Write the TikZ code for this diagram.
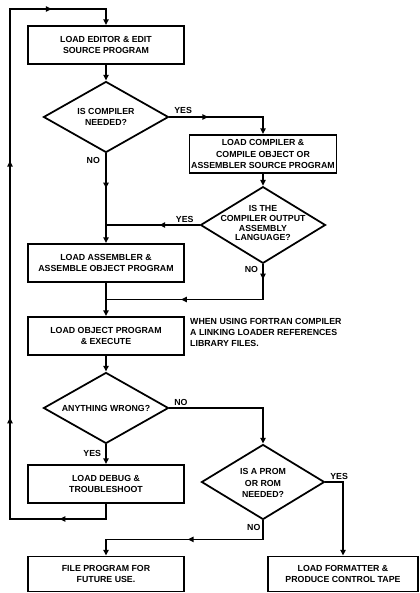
\documentclass[tikz,border=0pt]{standalone}
\usepackage{fontspec}
\setmainfont{Liberation Sans}
\usetikzlibrary{arrows.meta, positioning, calc, shapes.geometric, decorations.markings}
\newcommand{\flowfont}{\fontsize{7.5}{10}\selectfont\bfseries}
\tikzset{
	procbox/.style={draw, line width=1.5pt, minimum height=1.14cm, minimum width=4.68cm, inner sep=1pt, align=center, font=\flowfont},
	decide/.style={draw, diamond, line width=1.5pt, inner sep=0pt, minimum width=3.75cm, minimum height=2.13cm},
	decidetext/.style={align=center, inner sep=0pt, font=\fontsize{7.5}{#1}\selectfont\bfseries},
	flowarr/.style={line width=1.5pt, -{Triangle[length=5pt, width=4.5pt]}},
	flowline/.style={line width=1.5pt},
	midarr/.style={postaction={decorate, decoration={markings, mark=at position #1 with {\arrow{Triangle[length=5pt, width=4.5pt]}}}}},
	answer/.style={inner sep=0pt, font=\flowfont},
}

\begin{document}
\begin{tikzpicture}[x=0.03cm, y=-0.03cm]
	\useasboundingbox (0,0) rectangle (419,593);

	% Edit and first decision
	\node[procbox] (edit) at (106,45) {LOAD EDITOR \& EDIT\\SOURCE PROGRAM};
	\node[decide] (needcomp) at (106,117) {};
	\node[decidetext=10] (needcomptxt) at (106,117) {IS COMPILER\\NEEDED?};

	% Compiler branch
	\node[procbox, minimum width=4.41cm] (comp) at (263,154) {LOAD COMPILER \&\\COMPILE OBJECT OR\\ASSEMBLER SOURCE PROGRAM};
	\node[decide, minimum height=2.3cm] (isasm) at (263,225) {};
	\node[decidetext=8.5] (isasmtxt) at (263,223) {IS THE\\COMPILER OUTPUT\\ASSEMBLY\\LANGUAGE?};

	% Assemble and run
	\node[procbox] (asm) at (106,263) {LOAD ASSEMBLER \&\\ASSEMBLE OBJECT PROGRAM};
	\node[procbox] (exec) at (106,336) {LOAD OBJECT PROGRAM\\\& EXECUTE};
	\node[answer, align=left, anchor=north west, font=\fontsize{7.5}{9.5}\selectfont\bfseries] (note) at (190,318) {WHEN USING FORTRAN COMPILER\\A LINKING LOADER REFERENCES\\LIBRARY FILES.};

	% Debug loop
	\node[decide] (wrong) at (106,408) {};
	\node[decidetext=10] (wrongtxt) at (106,408) {ANYTHING WRONG?};
	\node[procbox] (debug) at (106,484) {LOAD DEBUG \&\\TROUBLESHOOT};

	% PROM decision and outputs
	\node[decide, minimum width=3.69cm, minimum height=2.25cm] (needrom) at (263,482) {};
	\node[decidetext=10] (needromtxt) at (263,483) {IS A PROM\\OR ROM\\NEEDED?};
	\node[procbox, minimum height=1.05cm] (file) at (106,574) {FILE PROGRAM FOR\\FUTURE USE.};
	\node[procbox, minimum width=4.5cm, minimum height=1.05cm] (fmt) at (343,574) {LOAD FORMATTER \&\\PRODUCE CONTROL TAPE};

	% Yes / no labels
	\node[answer, above right=3pt and 4pt of needcomp.east] (yes1) {YES};
	\node[answer, below left=3pt and 5pt of needcomp.south] (no1) {NO};
	\node[answer, above left=2pt and 5pt of isasm.west] (yes2) {YES};
	\node[answer, below left=2pt and 4pt of isasm.south] (no2) {NO};
	\node[answer, above right=2pt and 4pt of wrong.east] (no3) {NO};
	\node[answer, below left=5pt and 4pt of wrong.south] (yes3) {YES};
	\node[answer, above right=2pt and 4pt of needrom.east] (yes4) {YES};
	\node[answer, below left=3pt and 2pt of needrom.south] (no4) {NO};

	% Join points and loop corners
	\coordinate (joinyes) at (needcomp.south |- isasm.west);
	\coordinate (joinno) at ($(asm.south)!0.5!(exec.north)$);
	\coordinate (loopbot) at (10,519);
	\coordinate (looptop) at (10,9);

	% Connectors
	\draw[flowarr] (edit.south) -- (needcomp.north);
	\draw[flowarr, midarr=0.35] (needcomp.east) -| (comp.north);
	\draw[flowarr] (comp.south) -- (isasm.north);
	\draw[flowarr, midarr=0.39] (needcomp.south) -- (asm.north);
	\draw[flowline, midarr=0.43] (isasm.west) -- (joinyes);
	\draw[flowarr] (asm.south) -- (exec.north);
	\draw[flowline, midarr=0.08, midarr=0.61] (isasm.south) |- (joinno);
	\draw[flowarr] (exec.south) -- (wrong.north);
	\draw[flowarr] (wrong.east) -| (needrom.north);
	\draw[flowarr] (wrong.south) -- (debug.north);
	\draw[flowarr, midarr=0.084, midarr=0.29, midarr=0.64, midarr=0.904] (debug.south) |- (loopbot) -- (looptop) -| (edit.north);
	\draw[flowarr, midarr=0.49] (needrom.south) -- ++(0,19) -| (file.north);
	\draw[flowarr] (needrom.east) -| (fmt.north);
\end{tikzpicture}
\end{document}
